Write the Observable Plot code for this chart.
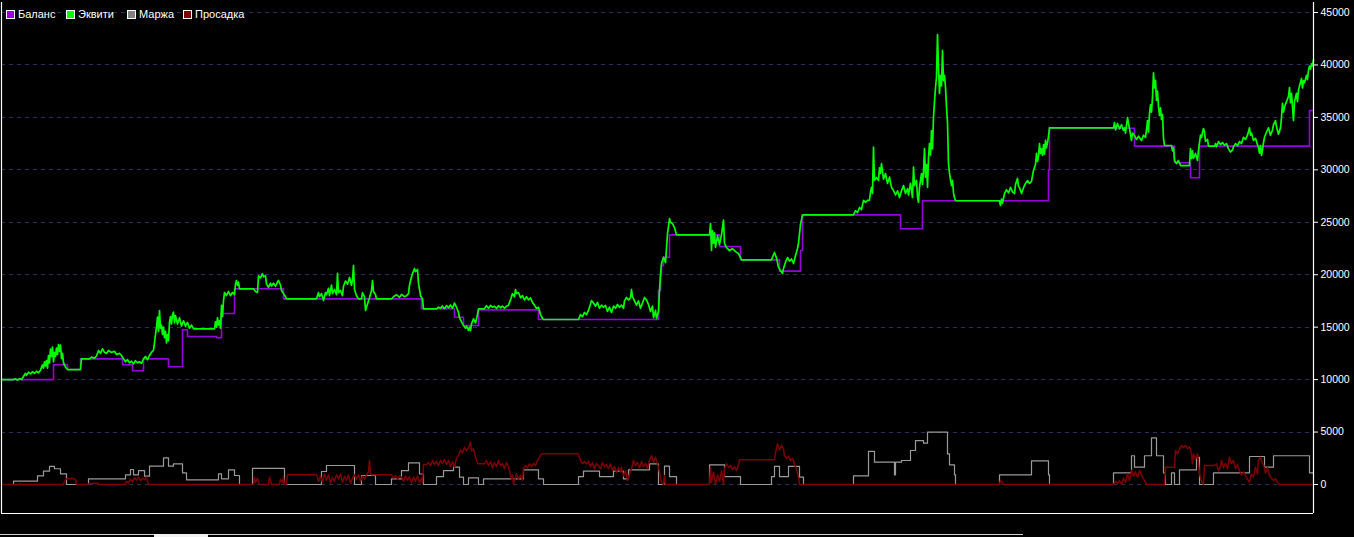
<!DOCTYPE html>
<html>
<head>
<meta charset="utf-8">
<script src="https://cdn.jsdelivr.net/npm/d3@7"></script>
<script src="https://cdn.jsdelivr.net/npm/@observablehq/plot@0.6"></script>
<style>
  html, body { margin: 0; padding: 0; background: #000; }
  #wrap { position: relative; width: 1354px; height: 537px; overflow: hidden; background: #000; }
  .leg { position: absolute; top: 8px; height: 12px; display: flex; align-items: center; background: #000;
         font: 11px "Liberation Sans", Arial, sans-serif; color: #fff; white-space: nowrap; }
  .sw { width: 7px; height: 7px; border: 1px solid #fff; margin-right: 3px; }
  .sb { position: absolute; }
</style>
</head>
<body>
<div id="wrap"></div>
<script>
// ---- Series names and colours ----
const seriesNames = ["Баланс", "Эквити", "Маржа", "Просадка"];
const seriesColors = ["#9900dd", "#00ff00", "#808080", "#800000"];
const yTicks = [0, 5000, 10000, 15000, 20000, 25000, 30000, 35000, 40000, 45000];

// ---- Balance (bar index, value) ----
const balance = [[0,10000],[52,11410],[66,10960],[79,11980],[121,11410],[131,10840],[142,11980],[167,11220],[181,14750],[186,14110],[215,13990],[220,16300],[233,18660],[282,17700],[420,16750],[453,15950],[462,15160],[477,16650],[537,15730],[657,18500],[659,19930],[660,20880],[662,21670],[668,23800],[718,22690],[739,21420],[778,20340],[799,22310],[801,25710],[899,24380],[921,27050],[1047,30000],[1048,33970],[1133,32260],[1173,30670],[1189,29240],[1198,32260],[1308,35660],[1312,35660]];

// ---- Equity (bar index, value) ----
const equity = [[0,10000],[12,10000],[14,10080],[16,9950],[18,10100],[20,10000],[22,10300],[24,10600],[25,10400],[27,10700],[29,10550],[31,10750],[33,10600],[35,10800],[37,10650],[39,10900],[41,11400],[42,11100],[43,11700],[44,11300],[45,11820],[46,11100],[47,12300],[48,11600],[49,12900],[50,12200],[51,13100],[52,11700],[53,12600],[54,12200],[55,13000],[56,12400],[57,13350],[58,12700],[59,13300],[60,12000],[61,12500],[62,11600],[64,11200],[66,10960],[79,10960],[80,11980],[88,11980],[90,12150],[93,12050],[95,12250],[97,12780],[99,12500],[101,12940],[103,12600],[105,12500],[107,12780],[110,12580],[113,12700],[115,12400],[118,12500],[120,12300],[122,11980],[124,11700],[126,11900],[128,11600],[130,11750],[132,11500],[134,11800],[136,11600],[138,11700],[140,11550],[142,11980],[144,12200],[146,11900],[148,12300],[150,12600],[152,12800],[153,13500],[154,14300],[155,15000],[156,15950],[157,14600],[158,16590],[159,14900],[160,15200],[161,14300],[162,15000],[163,14000],[164,14600],[165,13500],[166,14300],[167,13700],[168,15500],[169,16000],[170,15300],[171,16200],[172,16430],[173,15400],[174,16100],[176,15300],[178,15900],[180,15100],[182,15600],[184,15100],[186,15450],[188,14900],[190,15200],[192,14840],[213,14840],[214,15500],[215,15000],[216,15900],[217,15200],[218,15600],[219,14900],[220,17070],[221,16000],[222,17500],[223,18300],[225,18020],[227,18400],[229,18000],[231,18310],[233,18100],[234,19100],[235,19450],[236,19000],[237,19300],[238,18660],[252,18660],[254,18400],[256,18300],[257,19900],[259,19700],[261,20100],[262,19800],[264,19900],[265,19100],[267,18800],[269,19200],[270,18900],[272,19200],[274,18900],[276,19300],[277,19450],[279,19000],[280,18500],[282,18200],[284,17900],[285,17700],[315,17700],[316,18000],[317,18300],[318,17900],[320,18200],[322,17540],[324,18300],[325,18100],[327,18700],[328,18000],[330,19000],[331,18200],[333,18600],[335,18100],[336,20120],[337,18300],[339,18500],[341,18000],[342,18900],[344,19400],[346,19100],[348,19740],[350,19000],[351,19500],[352,20880],[353,18600],[355,18000],[357,17700],[360,17700],[361,18300],[363,17900],[364,16590],[366,17200],[368,17800],[370,18500],[371,19450],[372,18400],[374,18100],[375,17700],[390,17700],[392,17900],[395,18100],[398,17850],[400,18120],[403,17900],[405,18000],[407,18200],[408,19000],[410,19800],[411,20100],[413,20590],[414,20300],[416,20500],[417,19200],[419,18000],[421,17700],[422,16750],[435,16750],[437,16900],[439,16800],[441,17000],[443,16750],[445,17050],[447,16850],[449,17100],[451,16800],[453,17290],[455,16900],[457,16400],[458,15900],[460,15500],[462,15160],[464,14900],[465,15100],[467,14700],[468,15000],[469,14680],[470,15300],[472,15800],[474,15400],[476,16200],[477,16750],[483,16750],[485,17050],[487,16800],[489,17070],[491,16900],[493,17000],[495,16780],[497,17050],[499,16850],[501,17000],[503,16800],[505,17000],[507,17100],[509,17600],[511,18200],[513,17900],[514,18590],[515,18200],[517,18300],[519,17800],[521,18000],[523,17600],[525,17900],[527,17600],[529,17800],[531,17350],[533,17100],[535,16780],[537,16900],[539,16200],[541,15850],[542,15730],[577,15730],[579,16200],[581,16000],[583,16400],[585,16200],[587,16590],[589,17200],[590,17540],[592,17300],[594,17000],[596,17350],[598,16800],[600,17100],[602,16900],[604,17070],[606,16500],[608,16900],[610,16400],[612,17000],[614,16800],[616,17160],[618,16900],[620,17100],[622,16800],[623,17500],[625,17830],[627,17600],[629,17800],[630,18590],[631,17900],[633,17500],[635,17100],[637,17500],[639,16800],[641,17300],[643,17830],[645,17600],[647,17160],[649,16500],[651,17000],[652,15900],[654,16600],[655,15830],[657,16500],[658,18500],[659,20000],[660,21070],[662,21670],[664,21170],[665,22500],[666,23930],[667,24600],[668,25360],[669,25000],[671,24880],[673,24500],[675,23800],[708,23800],[709,24880],[710,22310],[711,24200],[712,23000],[713,24000],[714,22600],[716,23700],[718,22900],[720,23800],[722,25200],[723,23000],[725,22590],[728,22300],[731,22500],[734,22200],[737,22020],[740,21420],[770,21420],[772,21900],[773,22120],[775,21600],[777,20700],[779,20400],[781,20120],[782,20600],[784,21200],[786,21640],[788,21300],[790,21500],[792,21070],[794,21800],[796,22500],[797,23000],[799,24800],[801,25710],[852,25710],[854,26100],[856,25930],[858,26410],[860,26200],[862,27080],[864,26890],[866,27080],[868,27100],[869,27900],[870,28320],[871,27740],[872,32160],[873,29000],[875,29270],[877,28980],[878,30200],[879,29650],[880,30600],[881,29900],[882,29100],[884,29650],[886,28700],[888,29300],[890,28320],[892,28030],[894,27600],[896,28000],[898,27360],[900,28000],[902,28500],[904,27740],[906,28200],[907,27600],[909,28700],[911,27360],[912,30250],[913,28500],[915,29000],[916,27400],[917,26890],[918,28320],[920,29650],[921,28600],[922,29800],[923,32030],[924,29300],[925,30500],[926,28320],[927,31180],[928,32500],[929,31400],[930,33750],[931,32000],[932,34990],[933,36500],[934,37850],[935,38800],[936,42900],[937,39760],[938,37280],[939,39000],[940,38000],[941,41380],[942,38500],[943,39000],[944,37850],[945,36000],[946,34500],[947,30600],[948,29650],[950,28500],[951,29000],[952,27800],[953,27360],[954,27050],[998,27050],[999,26600],[1000,27200],[1001,26800],[1003,27740],[1005,28100],[1007,27800],[1009,28320],[1011,27900],[1013,27740],[1014,28600],[1016,29180],[1017,28400],[1018,28320],[1020,27740],[1022,28300],[1024,28700],[1026,28980],[1028,28700],[1030,28900],[1032,29940],[1034,30500],[1035,31560],[1036,30800],[1037,31300],[1038,32500],[1039,31560],[1040,32000],[1041,31370],[1042,32400],[1043,31500],[1044,32800],[1045,32100],[1046,32600],[1047,33200],[1048,34000],[1112,34000],[1113,34500],[1114,33800],[1116,34420],[1118,33900],[1120,34300],[1122,33750],[1123,34000],[1124,33500],[1126,34990],[1127,34400],[1128,33940],[1130,32800],[1131,33500],[1133,33270],[1135,32900],[1137,33200],[1140,32800],[1142,33300],[1144,33100],[1145,33800],[1146,34700],[1147,33600],[1148,35370],[1149,36200],[1150,35500],[1151,36900],[1152,39250],[1153,37800],[1154,38520],[1155,36610],[1156,37500],[1157,36000],[1158,35200],[1159,35900],[1160,34800],[1161,35300],[1162,33000],[1163,32320],[1170,32320],[1171,31800],[1172,32100],[1173,30890],[1175,30600],[1177,30890],[1179,30410],[1188,30410],[1189,32030],[1190,31080],[1191,31800],[1192,31100],[1194,31560],[1196,30890],[1197,31900],[1198,32600],[1199,33300],[1200,33080],[1201,33560],[1202,33940],[1203,33600],[1204,32700],[1206,32900],[1207,32260],[1213,32260],[1214,32500],[1215,32200],[1217,32700],[1219,32400],[1221,32600],[1223,32350],[1225,32500],[1227,32000],[1229,31700],[1231,31900],[1232,32200],[1234,32500],[1236,32300],[1238,32700],[1240,32500],[1242,33100],[1244,32900],[1246,33300],[1248,34000],[1249,33300],[1250,33500],[1252,32800],[1254,33000],[1256,32400],[1257,32100],[1258,31600],[1259,32300],[1260,31370],[1261,31900],[1262,32600],[1263,33100],[1265,33600],[1267,34000],[1269,33300],[1271,33800],[1272,34300],[1274,34700],[1275,34100],[1277,33400],[1279,34000],[1280,35000],[1281,36330],[1282,35500],[1283,36000],[1285,36500],[1287,37000],[1288,37850],[1289,36400],[1290,37300],[1291,36000],[1292,34700],[1293,36500],[1295,37300],[1296,36500],[1297,37600],[1298,38000],[1300,38710],[1301,37800],[1302,38500],[1303,38300],[1305,39000],[1306,38600],[1307,39500],[1308,39900],[1309,39600],[1310,40100],[1311,39900],[1312,40500]];

// ---- Margin (bar index, value) ----
const margin = [[0,0],[12,320],[36,830],[42,1270],[48,1720],[53,1500],[59,1020],[65,0],[87,540],[124,920],[129,1430],[132,920],[137,1330],[143,790],[148,1750],[162,2540],[167,1750],[172,1970],[181,1110],[185,450],[217,1020],[220,540],[227,1400],[233,860],[238,0],[251,1530],[283,0],[320,1240],[325,1810],[353,0],[360,860],[374,0],[390,540],[400,1330],[407,2070],[418,1000],[422,0],[435,760],[442,1330],[452,1650],[458,700],[462,0],[467,640],[477,0],[482,540],[522,1400],[537,540],[542,0],[577,760],[582,1270],[598,760],[612,1270],[622,540],[627,1400],[648,1970],[657,0],[663,1750],[668,760],[675,0],[708,1880],[723,760],[739,0],[770,760],[773,1720],[778,760],[787,1720],[798,700],[802,0],[852,830],[867,3150],[873,2130],[893,920],[894,2130],[900,2290],[909,3240],[914,4190],[922,3940],[926,4990],[946,2920],[948,1880],[953,920],[954,0],[998,920],[1030,2260],[1047,920],[1048,0],[1112,1110],[1130,2740],[1133,1650],[1143,2740],[1150,4450],[1155,2740],[1162,1110],[1164,0],[1170,1110],[1173,0],[1178,1400],[1195,2600],[1198,0],[1212,1110],[1248,2670],[1263,1650],[1272,2740],[1308,1110],[1312,1110]];

// ---- Drawdown (bar index, value) ----
const drawdown = [[0,0],[17,0],[18,80],[20,0],[62,0],[63,300],[65,540],[72,560],[74,480],[75,0],[87,0],[88,120],[90,60],[92,150],[94,80],[96,140],[97,0],[124,0],[125,300],[127,150],[129,500],[131,250],[133,650],[135,400],[137,700],[139,350],[141,600],[143,450],[145,700],[147,0],[252,0],[253,700],[254,200],[256,600],[258,0],[267,0],[268,700],[270,0],[278,0],[279,500],[281,200],[282,700],[283,0],[285,0],[286,920],[315,920],[317,300],[319,800],[321,200],[323,1000],[325,400],[327,900],[329,150],[331,700],[333,300],[335,950],[337,500],[339,1000],[341,200],[343,800],[345,400],[347,900],[349,100],[351,600],[353,920],[355,500],[357,920],[359,300],[361,800],[363,500],[365,900],[367,1200],[368,2290],[369,1100],[370,920],[390,920],[392,600],[394,850],[396,500],[398,800],[400,700],[402,300],[404,800],[406,400],[408,750],[410,150],[412,700],[414,300],[416,800],[418,200],[420,600],[421,100],[422,1910],[425,1910],[427,2100],[429,1800],[431,2290],[433,1900],[435,2200],[437,1810],[439,2300],[441,2000],[443,2380],[445,1900],[447,2290],[449,1700],[451,2200],[453,1650],[455,2500],[457,2760],[459,3300],[461,3000],[463,3560],[465,3200],[467,3500],[469,4030],[470,3200],[472,3400],[474,2600],[476,2000],[477,1970],[483,1970],[485,2290],[487,1800],[489,2200],[491,1600],[493,2100],[495,1700],[497,2290],[499,1800],[501,2000],[503,1500],[505,2100],[507,1700],[508,1330],[510,500],[511,900],[512,60],[514,700],[515,1020],[517,500],[519,900],[521,380],[522,1500],[524,1800],[526,1600],[528,1970],[530,1700],[532,2000],[534,1800],[536,2300],[538,2600],[540,2920],[577,2920],[579,2290],[581,2000],[583,2200],[585,1970],[587,2200],[589,1700],[591,2100],[593,1500],[595,2000],[597,1800],[599,1500],[601,2100],[603,1700],[605,1900],[607,1500],[609,1970],[611,1300],[613,1700],[615,1170],[617,1600],[619,1200],[620,1650],[622,800],[624,1300],[626,380],[628,1000],[630,1500],[632,2290],[634,1800],[636,2100],[638,1600],[640,2200],[642,1700],[644,2000],[646,1500],[648,2300],[650,2760],[652,2100],[654,2600],[656,1970],[658,1200],[660,200],[662,0],[663,860],[664,0],[708,0],[709,1650],[710,200],[712,1200],[714,0],[716,900],[718,300],[720,1300],[722,0],[723,1500],[725,2000],[727,1600],[729,1800],[731,1400],[733,1700],[735,1330],[737,1900],[738,2350],[773,2350],[774,3000],[776,3880],[778,3300],[780,3720],[782,3400],[783,2760],[785,2500],[787,2700],[789,2290],[791,2500],[793,1970],[795,1400],[797,700],[798,0],[998,0],[999,380],[1001,200],[1002,0],[1112,0],[1114,300],[1116,100],[1118,380],[1120,0],[1122,600],[1124,200],[1126,1020],[1128,400],[1130,1330],[1132,800],[1134,1200],[1136,700],[1138,1300],[1140,900],[1142,540],[1144,200],[1145,0],[1163,0],[1164,1650],[1173,1650],[1174,3240],[1176,2920],[1178,3400],[1180,3720],[1182,3500],[1184,3720],[1186,3400],[1188,3600],[1190,2920],[1191,1970],[1192,2900],[1194,2400],[1196,2920],[1198,1020],[1200,300],[1202,0],[1203,1810],[1213,1810],[1215,1970],[1217,1300],[1219,1700],[1220,2290],[1222,1600],[1224,2000],[1226,1500],[1228,2600],[1230,2000],[1232,2300],[1234,1500],[1236,1900],[1238,1330],[1240,900],[1242,1200],[1244,860],[1246,500],[1248,200],[1250,1000],[1252,700],[1254,1650],[1256,1000],[1257,2300],[1259,2600],[1261,1970],[1262,1900],[1264,1100],[1266,1600],[1268,860],[1270,600],[1272,380],[1274,540],[1276,200],[1278,0],[1312,0]];

const xDomain = [0, 1312];
const yDomain = [-2765, 45953];

const toRows = arr => arr.map(([bar, value]) => ({bar, value}));

const chart = Plot.plot({
  width: 1354,
  height: 537,
  marginLeft: 1,
  marginRight: 41,
  marginTop: 2,
  marginBottom: 24,
  style: {background: "#000", color: "#fff", fontFamily: "'Liberation Sans', Arial, sans-serif", fontSize: "10.5px"},
  x: {domain: xDomain, axis: null},
  y: {domain: yDomain, axis: "right", ticks: yTicks, tickSize: 4, tickPadding: 3, tickFormat: d => String(d), label: null},
  marks: [
    Plot.ruleY(yTicks, {stroke: "#2e2e5c", strokeDasharray: "4,4", strokeWidth: 1, shapeRendering: "crispEdges"}),
    Plot.line(toRows(margin), {x: "bar", y: "value", stroke: "#9a9a9a", strokeWidth: 1.2, curve: "step-after"}),
    Plot.line(toRows(drawdown), {x: "bar", y: "value", stroke: seriesColors[3], strokeWidth: 1.5}),
    Plot.line(toRows(balance), {x: "bar", y: "value", stroke: seriesColors[0], strokeWidth: 1.6, curve: "step-after"}),
    Plot.line(toRows(equity), {x: "bar", y: "value", stroke: seriesColors[1], strokeWidth: 1.7}),
    Plot.ruleX([xDomain[0], xDomain[1]], {y1: yDomain[0], y2: yDomain[1], stroke: "#fff", strokeWidth: 1.2}),
    Plot.ruleY([yDomain[0]], {x1: xDomain[0], x2: xDomain[1], stroke: "#fff", strokeWidth: 1.2})
  ]
});

const wrap = document.getElementById("wrap");
wrap.appendChild(chart);

// legend (overlay, top-left)
const legendLeft = [6, 66, 127, 183];
seriesNames.forEach((name, i) => {
  const item = document.createElement("div");
  item.className = "leg";
  item.style.left = legendLeft[i] + "px";
  const sw = document.createElement("span");
  sw.className = "sw";
  sw.style.background = seriesColors[i];
  const t = document.createElement("span");
  t.textContent = name;
  item.appendChild(sw);
  item.appendChild(t);
  wrap.appendChild(item);
});

// scrollbar strip at the bottom
[[0, 534, 154, 1, "#d0d0d0"], [154, 534, 54, 3, "#f0f0f0"], [208, 534, 815, 1, "#d0d0d0"]].forEach(([l, t, w, h, c]) => {
  const d = document.createElement("div");
  d.className = "sb";
  Object.assign(d.style, {left: l + "px", top: t + "px", width: w + "px", height: h + "px", background: c});
  wrap.appendChild(d);
});
</script>
</body>
</html>
